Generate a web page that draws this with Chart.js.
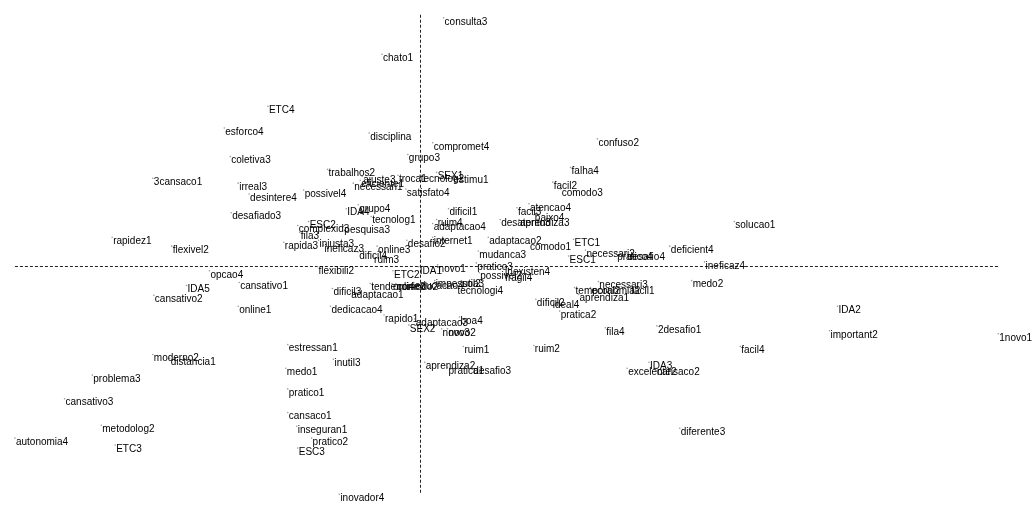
<!DOCTYPE html>
<html>
<head>
<meta charset="utf-8">
<script src="https://cdn.jsdelivr.net/npm/chart.js@4.4.1/dist/chart.umd.min.js"></script>
<style>
  html, body { margin: 0; padding: 0; background: #fff; }
  #plot { display: block; }
</style>
</head>
<body>
<canvas id="plot" width="1035" height="511"></canvas>
<script>
// category labels and their coordinates on the two factorial axes
const labels = [
    'consulta3', 'chato1', 'ETC4', 'esforco4', 'disciplina', 'compromet4', 'confuso2', 'grupo3',
    'coletiva3', 'falha4', 'trabalhos2', 'SEX1', 'ajuste3', 'troca1', 'tecnolog2', 'estimu1',
    'necessari1', 'eficiente1', '3cansaco1', 'irreal3', 'facil2', 'satisfato4', 'desintere4', 'possivel4',
    'comodo3', 'IDA4', 'grupo4', 'desafiado3', 'dificil1', 'facil3', 'atencao4', 'solucao1',
    'tecnolog1', 'ruim4', 'baixo4', 'desatento3', 'adaptacao4', 'aprendiza3', 'ESC2', 'complexid3',
    'pesquisa3', 'fila3', 'rapida3', 'injusta3', 'ineficaz3', 'desafio2', 'internet1', 'online3',
    'dificil4', 'ruim3', 'rapidez1', 'flexivel2', 'adaptacao2', 'comodo1', 'mudanca3', 'ETC1',
    'necessari2', 'ESC1', 'pratico4', 'desafio4', 'deficient4', 'ineficaz4', 'opcao4', 'flexibili2',
    'ETC2', 'IDA1', 'novo1', 'pratico3', 'possivel2', 'inexisten4', 'fragil4', 'IDA5',
    'cansativo1', 'cansativo2', 'online1', 'dificil3', 'adaptacao1', 'tendenci4', 'online2', 'comodo2',
    'educacao4', 'impessoa3', 'util2', 'tecnologi4', 'dedicacao4', 'rapido1', 'adaptacao3', 'boa4',
    'SEX2', 'novo3', 'novo2', 'necessari3', 'facil1', 'temporal2', 'economia2', 'aprendiza1',
    'dificil2', 'ideal4', 'pratica2', 'fila4', '2desafio1', 'medo2', 'IDA2', 'important2',
    '1novo1', 'moderno2', 'distancia1', 'problema3', 'cansativo3', 'metodolog2', 'autonomia4', 'ETC3',
    'estressan1', 'inutil3', 'medo1', 'pratico1', 'cansaco1', 'inseguran1', 'pratico2', 'ESC3',
    'inovador4', 'ruim1', 'aprendiza2', 'pratica1', 'desafio3', 'ruim2', 'facil4', 'IDA3',
    'excelente2', 'cansaco2', 'diferente3'
];

const dim1 = [
    0.24, -0.38, -1.53, -1.97, -0.51, 0.13, 1.79, -0.12,
    -1.91, 1.52, -0.93, 0.17, -0.58, -0.22, 0.00, 0.33,
    -0.67, -0.60, -2.69, -1.83, 1.34, -0.14, -1.72, -1.17,
    1.42, -0.74, -0.62, -1.90, 0.29, 0.98, 1.10, 3.17,
    -0.49, 0.17, 1.15, 0.81, 0.13, 1.00, -1.12, -1.23,
    -0.77, -1.21, -1.37, -1.02, -0.97, -0.13, 0.13, -0.43,
    -0.62, -0.47, -3.10, -2.50, 0.69, 1.10, 0.59, 1.55,
    1.67, 1.50, 1.98, 2.08, 2.52, 2.87, -2.12, -1.03,
    -0.27, -0.01, 0.18, 0.57, 0.60, 0.85, 0.85, -2.35,
    -1.82, -2.68, -1.83, -0.88, -0.70, -0.50, -0.28, -0.24,
    -0.06, 0.15, 0.42, 0.37, -0.90, -0.36, -0.05, 0.40,
    -0.11, 0.22, 0.28, 1.80, 2.12, 1.56, 1.72, 1.60,
    1.17, 1.33, 1.41, 1.87, 2.39, 2.74, 4.21, 4.13,
    5.83, -2.69, -2.52, -3.30, -3.58, -3.21, -4.08, -3.07,
    -1.33, -0.87, -1.35, -1.33, -1.33, -1.24, -1.09, -1.23,
    -0.81, 0.44, 0.05, 0.28, 0.53, 1.15, 3.23, 2.31,
    2.09, 2.38, 2.62
];

const dim2 = [
    2.52, 2.15, 1.62, 1.40, 1.35, 1.25, 1.29, 1.13,
    1.11, 1.00, 0.98, 0.95, 0.91, 0.92, 0.92, 0.91,
    0.84, 0.87, 0.89, 0.84, 0.85, 0.78, 0.73, 0.77,
    0.78, 0.58, 0.62, 0.54, 0.58, 0.59, 0.63, 0.45,
    0.50, 0.47, 0.52, 0.47, 0.43, 0.47, 0.45, 0.41,
    0.40, 0.34, 0.24, 0.26, 0.21, 0.26, 0.29, 0.20,
    0.14, 0.10, 0.29, 0.20, 0.29, 0.23, 0.15, 0.27,
    0.16, 0.10, 0.13, 0.13, 0.20, 0.04, -0.05, -0.01,
    -0.05, -0.01, 0.01, 0.03, -0.07, -0.02, -0.09, -0.20,
    -0.17, -0.30, -0.41, -0.23, -0.26, -0.18, -0.18, -0.18,
    -0.17, -0.15, -0.15, -0.22, -0.41, -0.50, -0.54, -0.52,
    -0.60, -0.64, -0.64, -0.16, -0.22, -0.22, -0.22, -0.29,
    -0.34, -0.36, -0.46, -0.63, -0.61, -0.15, -0.41, -0.66,
    -0.69, -0.90, -0.94, -1.11, -1.35, -1.62, -1.75, -1.82,
    -0.80, -0.95, -1.04, -1.25, -1.49, -1.63, -1.75, -1.85,
    -2.32, -0.82, -0.98, -1.03, -1.03, -0.81, -0.82, -0.98,
    -1.04, -1.04, -1.65
];

// dashed reference axes through the origin, spanning the data range
const originLines = {
    id: 'originLines',
    beforeDatasetsDraw(chart) {
        const { ctx, scales: { x, y } } = chart;
        const x0 = x.getPixelForValue(0);
        const y0 = y.getPixelForValue(0);
        ctx.save();
        ctx.strokeStyle = '#222';
        ctx.lineWidth = 1;
        ctx.setLineDash([3, 2]);
        ctx.beginPath();
        ctx.moveTo(x.getPixelForValue(Math.min(...dim1)), Math.round(y0) + 0.5);
        ctx.lineTo(x.getPixelForValue(Math.max(...dim1)), Math.round(y0) + 0.5);
        ctx.moveTo(Math.round(x0) + 0.5, y.getPixelForValue(Math.max(...dim2)) - 3);
        ctx.lineTo(Math.round(x0) + 0.5, y.getPixelForValue(Math.min(...dim2)));
        ctx.stroke();
        ctx.restore();
    }
};

// text labels written just right of / below each point
const pointLabels = {
    id: 'pointLabels',
    afterDatasetsDraw(chart) {
        const { ctx } = chart;
        const meta = chart.getDatasetMeta(0);
        ctx.save();
        ctx.font = '10px "Liberation Sans", Arial, sans-serif';
        ctx.fillStyle = '#000';
        ctx.textBaseline = 'middle';
        ctx.textAlign = 'left';
        meta.data.forEach((pt, i) => {
            ctx.fillText(labels[i], pt.x + 1, pt.y + 4);
        });
        ctx.restore();
    }
};

const points = labels.map((l, i) => ({ x: dim1[i], y: dim2[i] }));

new Chart(document.getElementById('plot'), {
    type: 'scatter',
    data: {
        datasets: [{
            data: points,
            pointRadius: 0.8,
            pointBackgroundColor: '#999',
            pointBorderWidth: 0
        }]
    },
    options: {
        responsive: false,
        animation: false,
        layout: { padding: 0 },
        scales: {
            x: { display: false, min: -4.19, max: 6.16 },
            y: { display: false, min: -2.45, max: 2.66 }
        },
        plugins: {
            legend: { display: false },
            tooltip: { enabled: false }
        }
    },
    plugins: [originLines, pointLabels]
});
</script>
</body>
</html>
